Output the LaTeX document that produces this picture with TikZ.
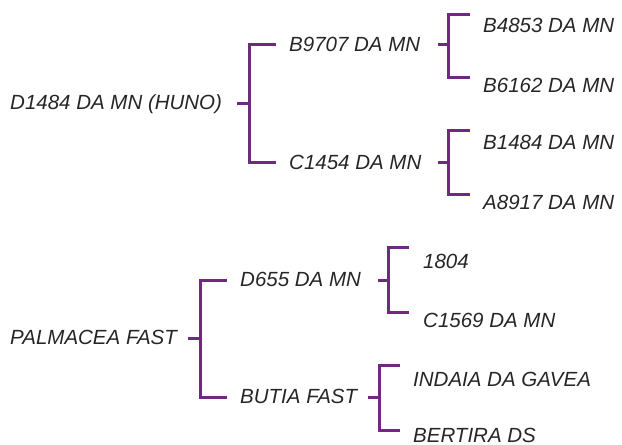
\documentclass[tikz,border=0pt]{standalone}
\usepackage{fontspec}
\setmainfont{Liberation Sans}
\definecolor{forkpurple}{HTML}{6F2A80}
\tikzset{
  taxon/.style={anchor=base west, inner sep=0pt, text=black!85,
    font=\itshape\fontsize{20.5}{24}\selectfont},
  fork/.style={draw=forkpurple, line width=3pt}
}

\begin{document}
\begin{tikzpicture}[x=1pt, y=-1pt]
                \useasboundingbox (0,0) rectangle (622,445);
                % Upper tree, names:
                \node[taxon] (huno) at (10,109.5) {D1484 DA MN (HUNO)};
                \node[taxon] (b9707) at (289,51) {B9707 DA MN};
                \node[taxon] (c1454) at (289,169) {C1454 DA MN};
                \node[taxon] (b4853) at (483,32) {B4853 DA MN};
                \node[taxon] (b6162) at (483,92) {B6162 DA MN};
                \node[taxon] (b1484) at (483,149) {B1484 DA MN};
                \node[taxon] (a8917) at (483,209) {A8917 DA MN};
                % Upper tree, forks:
                \coordinate (huno-s) at (237,103);
                \coordinate (huno-j) at (249,103);
                \coordinate (b9707-t) at (276,44);
                \coordinate (c1454-t) at (276,162);
                \draw[fork] (huno-s) -- (huno-j);
                \draw[fork] (b9707-t) -| (huno-j) |- (c1454-t);
                \coordinate (b9707-s) at (438,44);
                \coordinate (b9707-j) at (448,44);
                \coordinate (b4853-t) at (470,14);
                \coordinate (b6162-t) at (470,77);
                \draw[fork] (b9707-s) -- (b9707-j);
                \draw[fork] (b4853-t) -| (b9707-j) |- (b6162-t);
                \coordinate (c1454-s) at (438,162);
                \coordinate (c1454-j) at (448,162);
                \coordinate (b1484-t) at (470,130);
                \coordinate (a8917-t) at (470,194);
                \draw[fork] (c1454-s) -- (c1454-j);
                \draw[fork] (b1484-t) -| (c1454-j) |- (a8917-t);
                % Lower tree, names:
                \node[taxon] (palmacea) at (10,344) {PALMACEA FAST};
                \node[taxon] (d655) at (240,286) {D655 DA MN};
                \node[taxon] (butia) at (240,403) {BUTIA FAST};
                \node[taxon] (n1804) at (423,268) {1804};
                \node[taxon] (c1569) at (423,327) {C1569 DA MN};
                \node[taxon] (indaia) at (413,386) {INDAIA DA GAVEA};
                \node[taxon] (bertira) at (413,442) {BERTIRA DS};
                % Lower tree, forks:
                \coordinate (palmacea-s) at (188,338);
                \coordinate (palmacea-j) at (200,338);
                \coordinate (d655-t) at (227,280);
                \coordinate (butia-t) at (227,397);
                \draw[fork] (palmacea-s) -- (palmacea-j);
                \draw[fork] (d655-t) -| (palmacea-j) |- (butia-t);
                \coordinate (d655-s) at (378,280);
                \coordinate (d655-j) at (388,280);
                \coordinate (n1804-t) at (409,247);
                \coordinate (c1569-t) at (409,312);
                \draw[fork] (d655-s) -- (d655-j);
                \draw[fork] (n1804-t) -| (d655-j) |- (c1569-t);
                \coordinate (butia-s) at (368,397);
                \coordinate (butia-j) at (379,397);
                \coordinate (indaia-t) at (400,365);
                \coordinate (bertira-t) at (400,430);
                \draw[fork] (butia-s) -- (butia-j);
                \draw[fork] (indaia-t) -| (butia-j) |- (bertira-t);
            \end{tikzpicture}
\end{document}
